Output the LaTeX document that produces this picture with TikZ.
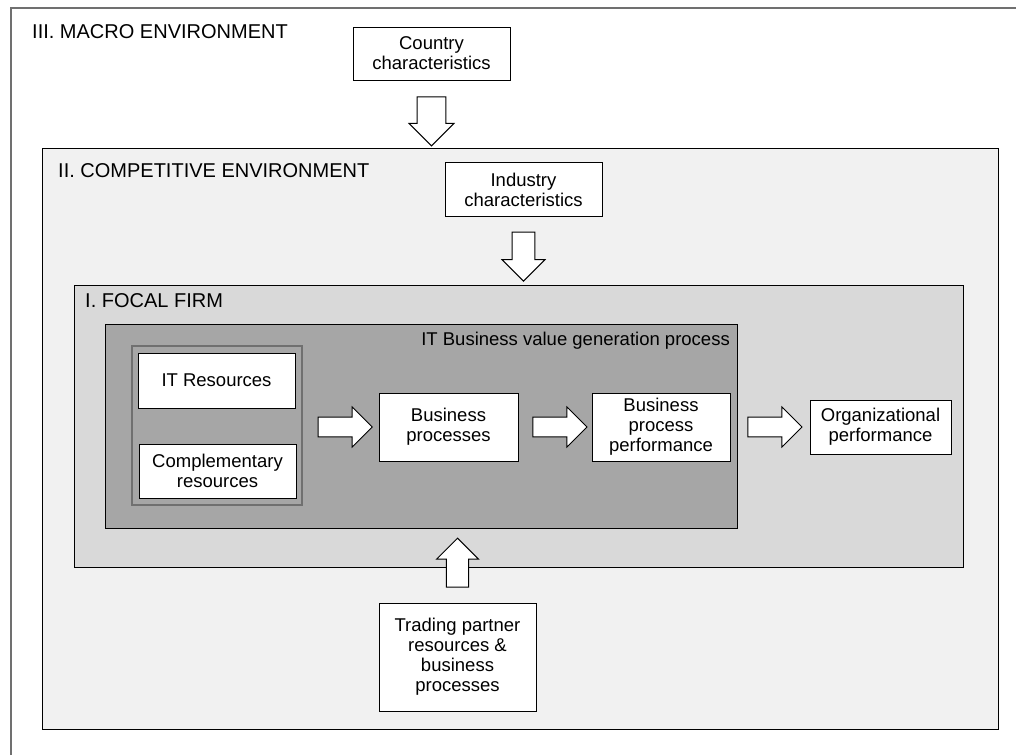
\documentclass[tikz,border=0pt]{standalone}
\usepackage{fontspec}
\setmainfont{Liberation Sans}
\usetikzlibrary{shapes.arrows,calc}
\definecolor{compgray}{HTML}{F1F1F1}
\definecolor{firmgray}{HTML}{D9D9D9}
\definecolor{procgray}{HTML}{A6A6A6}
\definecolor{framegray}{HTML}{707070}
\tikzset{
  every node/.style={font=\fontsize{18.5}{20}\selectfont},
  box/.style={draw, fill=white, line width=1pt, align=center, inner sep=0pt},
  title/.style={anchor=base west, inner sep=0pt, font=\fontsize{20}{22}\selectfont},
  fatarrow/.style={single arrow, draw, fill=white, line width=1pt, inner xsep=0pt,
    single arrow head indent=0pt, single arrow tip angle=90}
}
\begin{document}
\begin{tikzpicture}[x=1pt, y=-1pt]
		\useasboundingbox (0,0) rectangle (1016,755);
		\draw[framegray, line width=1.2pt] (11,755) -- (11,8) -- (1016,8);
		\node[title] (macro) at (32,38) {III. MACRO ENVIRONMENT};
		\filldraw[fill=compgray, line width=1pt] (42,148) rectangle (998,729);
		\node[title] (comp) at (58,177) {II. COMPETITIVE ENVIRONMENT};
		\filldraw[fill=firmgray, line width=1pt] (74,285) rectangle (963,567);
		\node[title] (firm) at (85,307) {I. FOCAL FIRM};
		\filldraw[fill=procgray, line width=1pt] (105,324) rectangle (737,528);
		\node[anchor=base east, inner sep=0pt] (itbv) at (730,345) {IT Business value generation process};
		\draw[framegray, line width=1.5pt] (132,346) rectangle (302,505);
		\coordinate (grp) at (302,427);
		\node[box, minimum width=157pt, minimum height=55pt] (itres) at (216.5,380.5) {IT Resources};
		\node[box, minimum width=157pt, minimum height=54pt] (compl) at (217.5,471) {Complementary\\resources};
		\node[box, minimum width=139pt, minimum height=68pt] (bp) at (448.5,427) {Business\\processes};
		\node[box, minimum width=138pt, minimum height=68pt] (bpp) at (661,427) {Business\\process\\performance};
		\node[box, minimum width=141pt, minimum height=54pt] (org) at (880.5,427) {Organizational\\performance};
		\node[box, minimum width=157pt, minimum height=53pt] (country) at (431.5,53.5) {Country\\characteristics};
		\node[box, minimum width=157pt, minimum height=54pt] (industry) at (523.5,189.5) {Industry\\characteristics};
		\node[box, minimum width=157pt, minimum height=108pt] (trading) at (457.5,657) {Trading partner\\resources \&\\business\\processes};
		\node[fatarrow, minimum height=54pt, inner ysep=6.5pt, minimum width=40pt] (a1) at ($(grp)!0.5!(bp.west)$) {};
		\node[fatarrow, minimum height=54pt, inner ysep=6.5pt, minimum width=40pt] (a2) at ($(bp.east)!0.5!(bpp.west)$) {};
		\node[fatarrow, minimum height=54pt, inner ysep=6.5pt, minimum width=40pt] (a3) at ($(bpp.east)!0.5!(org.west)$) {};
		\node[fatarrow, rotate=-90, minimum height=49pt, inner ysep=12pt, minimum width=45pt] (d1) at ($(country.south)!0.5!(431.5,148)$) {};
		\node[fatarrow, rotate=-90, minimum height=49pt, inner ysep=7.5pt, minimum width=43pt] (d2) at ($(industry.south)!0.5!(523.5,285)$) {};
		\node[fatarrow, rotate=90, minimum height=49pt, inner ysep=7.5pt, minimum width=42pt] (u1) at ($(trading.north)!0.5!(457.5,534)$) {};
	\end{tikzpicture}
\end{document}
